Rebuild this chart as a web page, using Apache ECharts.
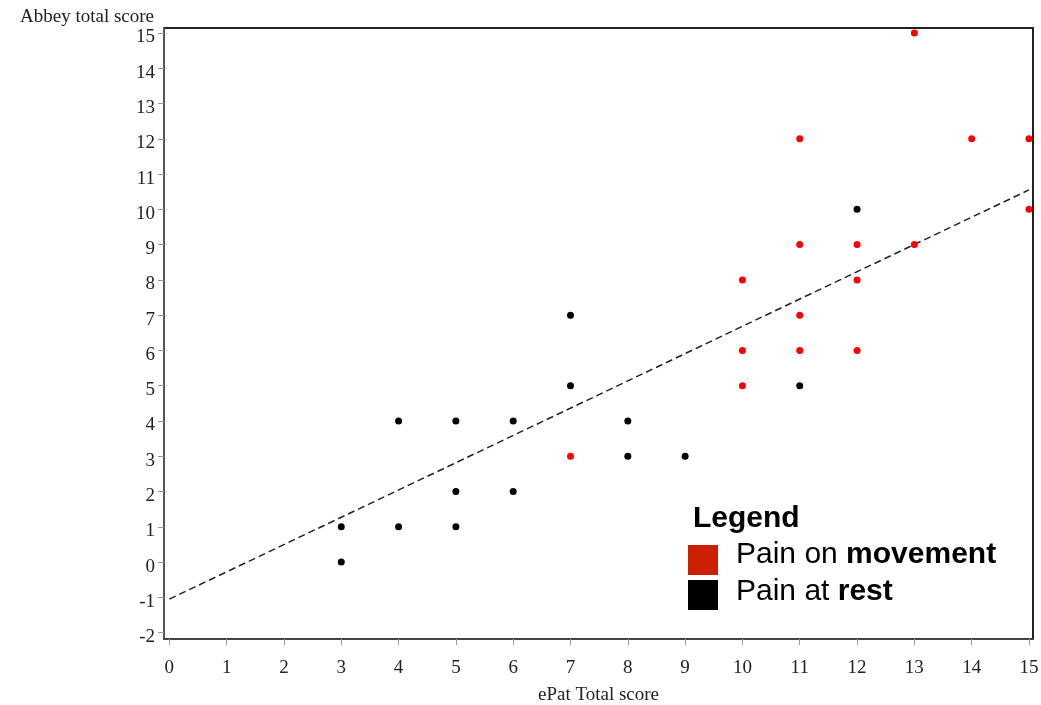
<!DOCTYPE html>
<html>
<head>
<meta charset="utf-8">
<script src="https://cdn.jsdelivr.net/npm/echarts@6/dist/echarts.min.js"></script>
<style>
  html, body { margin: 0; padding: 0; background: #fff; }
  #main { width: 1041px; height: 705px; }
</style>
</head>
<body>
<div id="main"></div>
<script>
// points: [ePat, Abbey]
const movementX = [7, 10, 10, 10, 11, 11, 11, 11, 12, 12, 12, 13, 13, 14, 15, 15];
const movementY = [3, 5, 6, 8, 6, 7, 9, 12, 6, 8, 9, 9, 15, 12, 12, 10];
const restX = [3, 3, 4, 4, 5, 5, 5, 6, 6, 7, 7, 8, 8, 9, 11, 12];
const restY = [0, 1, 1, 4, 1, 2, 4, 2, 4, 5, 7, 3, 4, 3, 5, 10];
// fitted line end points
const fitX = [0, 15];
const fitY = [-1.05, 10.55];
const xTicks = [0, 1, 2, 3, 4, 5, 6, 7, 8, 9, 10, 11, 12, 13, 14, 15];
const yTicks = [-2, -1, 0, 1, 2, 3, 4, 5, 6, 7, 8, 9, 10, 11, 12, 13, 14, 15];

document.addEventListener("DOMContentLoaded", function () {
  const chart = echarts.init(document.getElementById("main"));

  const zip = (xs, ys) => xs.map((x, i) => [x, ys[i]]);
  const serif = "'Liberation Serif', 'DejaVu Serif', serif";
  const sans = "'Liberation Sans', Arial, sans-serif";

  const option = {
    animation: false,
    backgroundColor: "#fff",
    grid: {
      left: 164,
      right: 8,
      top: 28,
      bottom: 66,
      outerBoundsMode: "none",
      containLabel: false,
      show: true,
      borderColor: "#222",
      borderWidth: 2,
    },
    xAxis: {
      type: "value",
      min: -0.093,
      max: 15.07,
      name: "ePat Total score",
      nameLocation: "middle",
      nameGap: 47,
      nameTextStyle: { fontFamily: serif, fontSize: 19, color: "#222" },
      splitLine: { show: false },
      axisLine: { onZero: false, lineStyle: { color: "#444", width: 2 } },
      axisTick: { length: 6, lineStyle: { color: "#999" }, customValues: xTicks },
      axisLabel: {
        customValues: xTicks,
        margin: 20,
        fontFamily: serif,
        fontSize: 19,
        color: "#222",
      },
    },
    yAxis: {
      type: "value",
      min: -2.18,
      max: 15.14,
      name: "Abbey total score",
      nameLocation: "end",
      nameGap: 1,
      nameTextStyle: {
        fontFamily: serif,
        fontSize: 19,
        color: "#222",
        align: "right",
        padding: [0, 10, 0, 0],
      },
      splitLine: { show: false },
      axisLine: { onZero: false, lineStyle: { color: "#555", width: 2 } },
      axisTick: { length: 6, lineStyle: { color: "#999" }, customValues: yTicks },
      axisLabel: {
        customValues: yTicks,
        margin: 9,
        verticalAlign: "top",
        lineHeight: 9,
        fontFamily: serif,
        fontSize: 19,
        color: "#222",
      },
    },
    series: [
      {
        name: "fit",
        type: "line",
        data: zip(fitX, fitY),
        symbol: "none",
        lineStyle: { color: "#222", width: 1.5, type: [7, 4] },
        z: 1,
      },
      {
        name: "Pain on movement",
        type: "scatter",
        data: zip(movementX, movementY),
        symbolSize: 7,
        itemStyle: { color: "#ff0000", opacity: 1 },
        z: 3,
      },
      {
        name: "Pain at rest",
        type: "scatter",
        data: zip(restX, restY),
        symbolSize: 7,
        itemStyle: { color: "#000", opacity: 1 },
        z: 3,
      },
    ],
    graphic: [
      {
        type: "text",
        left: 693,
        top: 504,
        style: { text: "Legend", font: "bold 30px " + sans, fill: "#000" },
      },
      {
        type: "rect",
        shape: { x: 688, y: 545, width: 30, height: 30 },
        style: { fill: "#cc1f00" },
      },
      {
        type: "rect",
        shape: { x: 688, y: 580, width: 30, height: 30 },
        style: { fill: "#000" },
      },
      {
        type: "text",
        left: 736,
        top: 540,
        style: {
          text: "{n|Pain on }{b|movement}",
          rich: {
            n: { fontFamily: sans, fontSize: 30, color: "#cc1100" },
            b: { fontFamily: sans, fontSize: 30, fontWeight: "bold", color: "#cc1100" },
          },
        },
      },
      {
        type: "text",
        left: 736,
        top: 577,
        style: {
          text: "{n|Pain at }{b|rest}",
          rich: {
            n: { fontFamily: sans, fontSize: 30, color: "#000" },
            b: { fontFamily: sans, fontSize: 30, fontWeight: "bold", color: "#000" },
          },
        },
      },
    ],
  };

  chart.setOption(option);
});
</script>
</body>
</html>
